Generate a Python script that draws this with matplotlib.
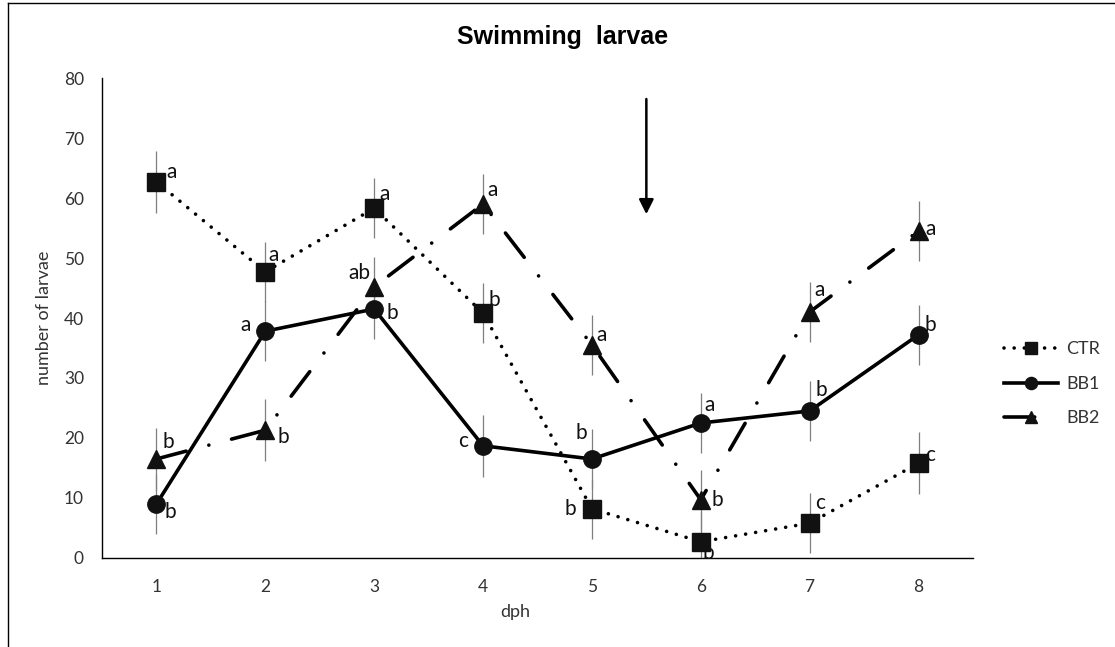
import matplotlib
matplotlib.use("Agg")
import matplotlib.pyplot as plt
from matplotlib.lines import Line2D

# data
dph = [1, 2, 3, 4, 5, 6, 7, 8]
ctr = [62.7, 47.7, 58.3, 40.8, 8.2, 2.7, 5.8, 15.8]
bb1 = [9.0, 37.8, 41.5, 18.7, 16.5, 22.5, 24.5, 37.2]
bb2 = [16.5, 21.3, 45.2, 59.0, 35.5, 9.7, 41.0, 54.5]
ctr_err = [5.2, 5.0, 5.0, 5.0, 5.0, 5.0, 5.0, 5.2]
bb1_err = [5.0, 5.0, 5.0, 5.2, 5.0, 5.0, 5.0, 5.0]
bb2_err = [5.2, 5.2, 5.0, 5.0, 5.0, 5.0, 5.0, 5.0]
ctr_letters = ["a", "a", "a", "b", "b", "b", "c", "c"]
bb1_letters = ["b", "a", "b", "c", "b", "a", "b", "b"]
bb2_letters = ["b", "b", "ab", "a", "a", "b", "a", "a"]

# letter placement (pixel offsets from the marker)
ctr_off = [(15, 10), (8, 17), (10, 14), (11, 13), (-22, 0), (8, -11), (10, 20), (12, 8)]
bb1_off = [(14, -8), (-20, 6), (18, -4), (-20, 5), (-11, 26), (9, 18), (12, 21), (12, 10)]
bb2_off = [(12, 17), (18, -7), (-15, 14), (10, 14), (10, 10), (17, 0), (10, 22), (12, 2)]

plt.rcParams['font.family'] = ['Lato', 'DejaVu Sans']

fig = plt.figure(figsize=(11.15, 6.47), dpi=100)
ax = fig.add_axes((0.0915, 0.1376, 0.7811, 0.7418))

lw = 2.6
series = [
    ("CTR", ctr, ctr_err, ctr_letters, ctr_off, "s", (0, (0.01, 2.8))),
    ("BB1", bb1, bb1_err, bb1_letters, bb1_off, "o", "-"),
    ("BB2", bb2, bb2_err, bb2_letters, bb2_off, "^", (0, (8.5, 6.5, 0.01, 6.5))),
]

handles = []
for name, vals, err, letters, offs, mk, ls in series:
    ax.errorbar(dph, vals, yerr=err, fmt="none", ecolor="#7f7f7f",
                elinewidth=0.9, capsize=0, zorder=1)
    line, = ax.plot(dph, vals, color="black", lw=lw, linestyle=ls,
                    dash_capstyle="round", marker=mk, markersize=12.5,
                    markerfacecolor="#111111", markeredgecolor="#111111",
                    label=name, zorder=3)
    handles.append(line)
    for x, y, t, (dx, dy) in zip(dph, vals, letters, offs):
        ax.annotate(t, (x, y), xytext=(dx, dy), textcoords="offset pixels",
                    ha="center", va="center", fontsize=15, color="#111111",
                    zorder=4)

# arrow marking the event between dph 5 and 6
ax.annotate("", xy=(5.5, 57.3), xytext=(5.5, 76.5),
            arrowprops=dict(arrowstyle="-|>", lw=1.8, color="black",
                            mutation_scale=22, shrinkA=0, shrinkB=0))

ax.set_xlim(0.5, 8.5)
ax.set_ylim(0, 80)
ax.set_xticks(dph)
ax.set_yticks(range(0, 81, 10))
ax.tick_params(length=0, labelsize=12.5, colors="#333333")
ax.tick_params(axis="x", pad=15)
ax.tick_params(axis="y", pad=13)
for s in ["top", "right"]:
    ax.spines[s].set_visible(False)
for s in ["left", "bottom"]:
    ax.spines[s].set_linewidth(1.0)
    ax.spines[s].set_color("black")

ax.set_xlabel("dph", fontsize=13, color="#333333")
ax.xaxis.set_label_coords(0.474, -0.096)
ax.set_ylabel("number of larvae", fontsize=13, color="#333333")
ax.yaxis.set_label_coords(-0.057, 0.5)

fig.text(563 / 1115, 1 - 37 / 647, "Swimming  larvae", ha="center", va="center",
         fontsize=18, fontweight="bold", family="Liberation Sans")

fig.legend(handles=handles, loc="upper left", bbox_to_anchor=(988 / 1115, 1 - 325 / 647),
           frameon=False, fontsize=13, handlelength=3.0, handletextpad=0.45,
           labelspacing=1.03, markerscale=0.7, labelcolor="#333333")

# outer frame lines (left and top)
fig.add_artist(Line2D([8 / 1115, 8 / 1115], [0, 1 - 3 / 647], color="black", lw=1,
                      transform=fig.transFigure))
fig.add_artist(Line2D([8 / 1115, 1], [1 - 3 / 647, 1 - 3 / 647], color="black", lw=1,
                      transform=fig.transFigure))

fig.savefig("out.png", dpi=100)
